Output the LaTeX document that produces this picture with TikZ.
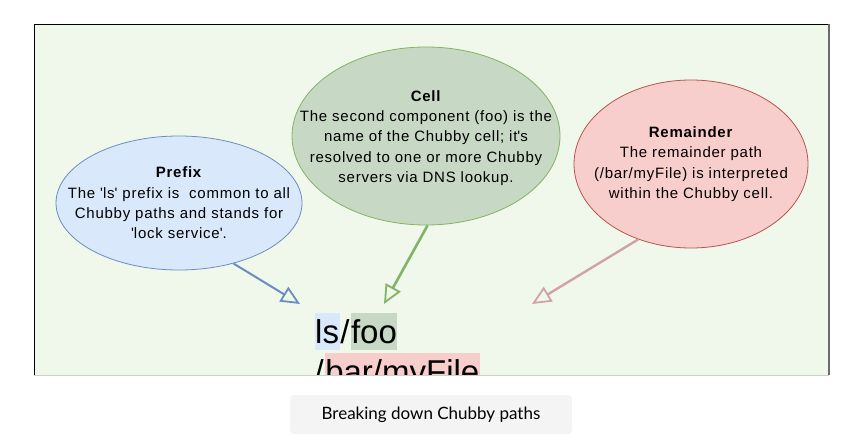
\documentclass[tikz,border=0pt]{standalone}
\usepackage{fontspec}
\setmainfont{Liberation Sans}
\newfontfamily\capfont{Lato}
\usetikzlibrary{arrows.meta,shapes.geometric}

\definecolor{panelbg}{HTML}{F0F8EC}
\definecolor{prefixfill}{HTML}{DAE8FC}
\definecolor{prefixline}{HTML}{6C8EBF}
\definecolor{cellfill}{HTML}{C7D8C5}
\definecolor{cellline}{HTML}{82B366}
\definecolor{remfill}{HTML}{F8CECC}
\definecolor{remline}{HTML}{B85450}
\definecolor{remarrow}{HTML}{D0A3A5}
\definecolor{capbg}{HTML}{F4F4F4}
\definecolor{edgeline}{HTML}{C9D3C5}
\newcommand{\sq}{\textquotesingle{}}

\begin{document}
\begin{tikzpicture}[x=1pt,y=-1pt,
    blob/.style={ellipse,draw,inner sep=0pt,line width=0.8pt},
    blurb/.style={align=center,inner sep=0pt,font=\addfontfeature{LetterSpace=5}\fontsize{15}{20.3}\selectfont},
    pointer/.style={line width=2pt,-{Triangle[open,length=19pt,width=17pt,line width=1.8pt]}},
    hl/.style={inner xsep=0.5pt,inner ysep=0pt,text height=30pt,text depth=7pt,font=\fontsize{33}{40}\selectfont}]
    \useasboundingbox (0,0) rectangle (853,441);
    % panel
    \fill[panelbg] (34,25) rectangle (829,375);
    \draw[line width=1pt] (34,375) -- (34,25) -- (829,25);
    \draw[line width=2pt,color=black!58] (829,24.5) -- (829,375);
    % the three parts
    \node[blob,fill=prefixfill,draw=prefixline,minimum width=246pt,minimum height=134pt] (prefix) at (179,203) {};
    \node[blob,fill=cellfill,draw=cellline,minimum width=268pt,minimum height=178pt] (cell) at (426,136) {};
    \node[blob,fill=remfill,draw=remline,minimum width=234pt,minimum height=168pt] (remainder) at (691,164) {};
    \node[blurb] (prefixtext) at (prefix) {\textbf{Prefix}\\The \sq ls\sq\ prefix is\ \ common to all\\Chubby paths and stands for\\\sq lock service\sq.};
    \node[blurb] (celltext) at (426,138) {\textbf{Cell}\\The second component (foo) is the\\name of the Chubby cell; it\sq s\\resolved to one or more Chubby\\servers via DNS lookup.};
    \node[blurb] (remaindertext) at (remainder) {\textbf{Remainder}\\The remainder path\\(/bar/myFile) is interpreted\\within the Chubby cell.};
    % the path
    \begin{scope}
        \clip (34,25) rectangle (829,375);
        \node[hl,fill=prefixfill,anchor=base west] (ls) at (314.5,343) {ls};
        \node[hl,anchor=base west] (slash) at (ls.base east) {/};
        \node[hl,fill=cellfill,anchor=base west] (foo) at (slash.base east) {foo};
        \node[hl,anchor=base west] (slashb) at (314,383) {/};
        \node[hl,fill=remfill,anchor=base west] (bar) at (slashb.base east) {bar/myFile};
    \end{scope}
    \draw[line width=1pt,color=edgeline] (34,375) -- (829,375);
    % arrows
    \coordinate (prefixtip) at (300,304);
    \coordinate (celltip) at (384,304);
    \coordinate (remaindertip) at (532,304);
    \draw[pointer,draw=prefixline] (prefix.-48) -- (prefixtip);
    \draw[pointer,draw=cellline,line width=2.6pt] (cell.-89) -- (celltip);
    \draw[pointer,draw=remarrow,line width=2.4pt] (remainder.-125) -- (remaindertip);
    % caption
    \node[fill=capbg,rounded corners=4pt,minimum width=282pt,minimum height=39pt,font=\capfont\fontsize{17}{20}\selectfont] (caption) at (431,414.5) {Breaking down Chubby paths};
\end{tikzpicture}
\end{document}
